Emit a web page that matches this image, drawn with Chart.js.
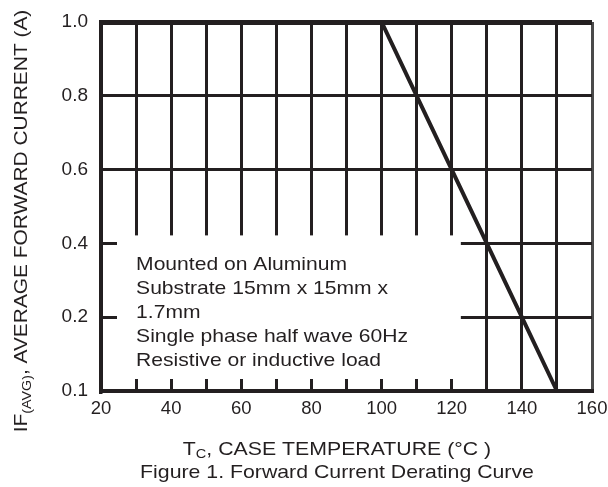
<!DOCTYPE html>
<html><head><meta charset="utf-8">
<script src="https://cdn.jsdelivr.net/npm/chart.js@4/dist/chart.umd.min.js"></script>
<style>html,body{margin:0;padding:0;background:#fff;}#wrap{width:608px;height:487px;position:relative;}</style>
</head><body><div id="wrap"><canvas id="c" width="608" height="487"></canvas></div>
<script>
// ---- data ----
const currentLabels = ['1.0', '0.8', '0.6', '0.4', '0.2', '0.1'];
const temperatureTicks = [20, 40, 60, 80, 100, 120, 140, 160];
const caseTemps = [20, 100, 110, 120, 130, 140, 150];
const forwardCurrent = [1.0, 1.0, 0.8, 0.6, 0.4, 0.2, 0.1];
const noteLines = ['Mounted on Aluminum', 'Substrate 15mm x 15mm x', '1.7mm', 'Single phase half wave 60Hz', 'Resistive or inductive load'];
const xTitleParts = ['T', 'C', ', CASE TEMPERATURE (°C )'];
const yTitleParts = ['IF', '(AVG)', ', AVERAGE FORWARD CURRENT (A)'];
const captionText = 'Figure 1. Forward Current Derating Curve';

const INK = '#231f20';
const FAMILY = '"Liberation Sans", Arial, Helvetica, sans-serif';

function drawSubText(ctx, parts, size, subSize, subShift) {
  ctx.font = size + 'px ' + FAMILY;
  const w0 = ctx.measureText(parts[0]).width;
  const w2 = ctx.measureText(parts[2]).width;
  ctx.font = subSize + 'px ' + FAMILY;
  const w1 = ctx.measureText(parts[1]).width;
  let x = -(w0 + w1 + w2) / 2;
  ctx.font = size + 'px ' + FAMILY;
  ctx.fillText(parts[0], x, 0); x += w0;
  ctx.font = subSize + 'px ' + FAMILY;
  ctx.fillText(parts[1], x, subShift); x += w1;
  ctx.font = size + 'px ' + FAMILY;
  ctx.fillText(parts[2], x, 0);
}

const noteBox = {
  id: 'noteBox',
  beforeDatasetsDraw(chart) {
    const { ctx, chartArea: ca, scales: { x, y } } = chart;
    const left = x.getPixelForValue(20) + 16;
    const right = x.getPixelForValue(122.6);
    const top = y.getPixelForTick(3) - 8;
    const bottom = ca.bottom - 12;
    ctx.save();
    ctx.fillStyle = '#ffffff';
    ctx.fillRect(left, top, right - left, bottom - top);
    ctx.fillStyle = INK;
    ctx.font = '18.5px ' + FAMILY;
    ctx.textBaseline = 'alphabetic';
    ctx.textAlign = 'left';
    const tx = x.getPixelForValue(30);
    noteLines.forEach((s, i) => {
      ctx.save();
      ctx.translate(tx, top + 35 + i * 24);
      ctx.scale(1.14, 1);
      ctx.fillText(s, 0, 0);
      ctx.restore();
    });
    ctx.restore();
  }
};

const titles = {
  id: 'titles',
  afterDraw(chart) {
    const { ctx, chartArea: ca } = chart;
    ctx.save();
    ctx.fillStyle = INK;
    ctx.textBaseline = 'alphabetic';
    ctx.textAlign = 'left';
    // x-axis title
    ctx.save();
    ctx.translate(337, ca.bottom + 64);
    ctx.scale(1.12, 1);
    drawSubText(ctx, xTitleParts, 19, 13, 3);
    ctx.restore();
    // caption
    ctx.save();
    ctx.translate(337, ca.bottom + 87);
    ctx.scale(1.12, 1);
    ctx.font = '19px ' + FAMILY;
    ctx.textAlign = 'center';
    ctx.fillText(captionText, 0, 0);
    ctx.restore();
    // y-axis title
    ctx.save();
    ctx.translate(27, ca.top + 199);
    ctx.rotate(-Math.PI / 2);
    ctx.scale(1.1, 1);
    drawSubText(ctx, yTitleParts, 19, 13, 4);
    ctx.restore();
    ctx.restore();
  }
};

new Chart(document.getElementById('c'), {
  type: 'line',
  data: {
    datasets: [{
      data: caseTemps.map((t, i) => ({ x: t, y: forwardCurrent[i].toFixed(1) })),
      borderColor: INK,
      borderWidth: 4,
      pointRadius: 0,
      tension: 0,
      fill: false
    }]
  },
  options: {
    responsive: false,
    animation: false,
    devicePixelRatio: 1,
    layout: { padding: { left: 0, right: 16, top: 22, bottom: 0 } },
    plugins: { legend: { display: false }, tooltip: { enabled: false } },
    scales: {
      x: {
        type: 'linear', min: 20, max: 160,
        afterFit(s) { s.height = 96; s.paddingLeft = 0; s.paddingRight = 0; },
        ticks: {
          stepSize: 10, autoSkip: false, maxRotation: 0, padding: 7, color: INK,
          font: { family: FAMILY, size: 18.5 },
          callback: v => temperatureTicks.includes(v) ? String(v) : ''
        },
        grid: { color: c => (c.tick && c.tick.value === 160) ? '#4a4a4a' : INK, lineWidth: 3, drawTicks: false },
        border: { color: INK, width: 4 }
      },
      y: {
        type: 'category', labels: currentLabels, offset: false,
        afterFit(s) { s.width = 101; s.paddingTop = 0; s.paddingBottom = 0; },
        ticks: { padding: 13, color: INK, font: { family: FAMILY, size: 19 } },
        grid: { color: INK, lineWidth: c => c.index === 0 ? 5 : 3, drawTicks: false },
        border: { color: INK, width: 3.5 }
      }
    }
  },
  plugins: [noteBox, titles]
});
</script>
</body></html>
